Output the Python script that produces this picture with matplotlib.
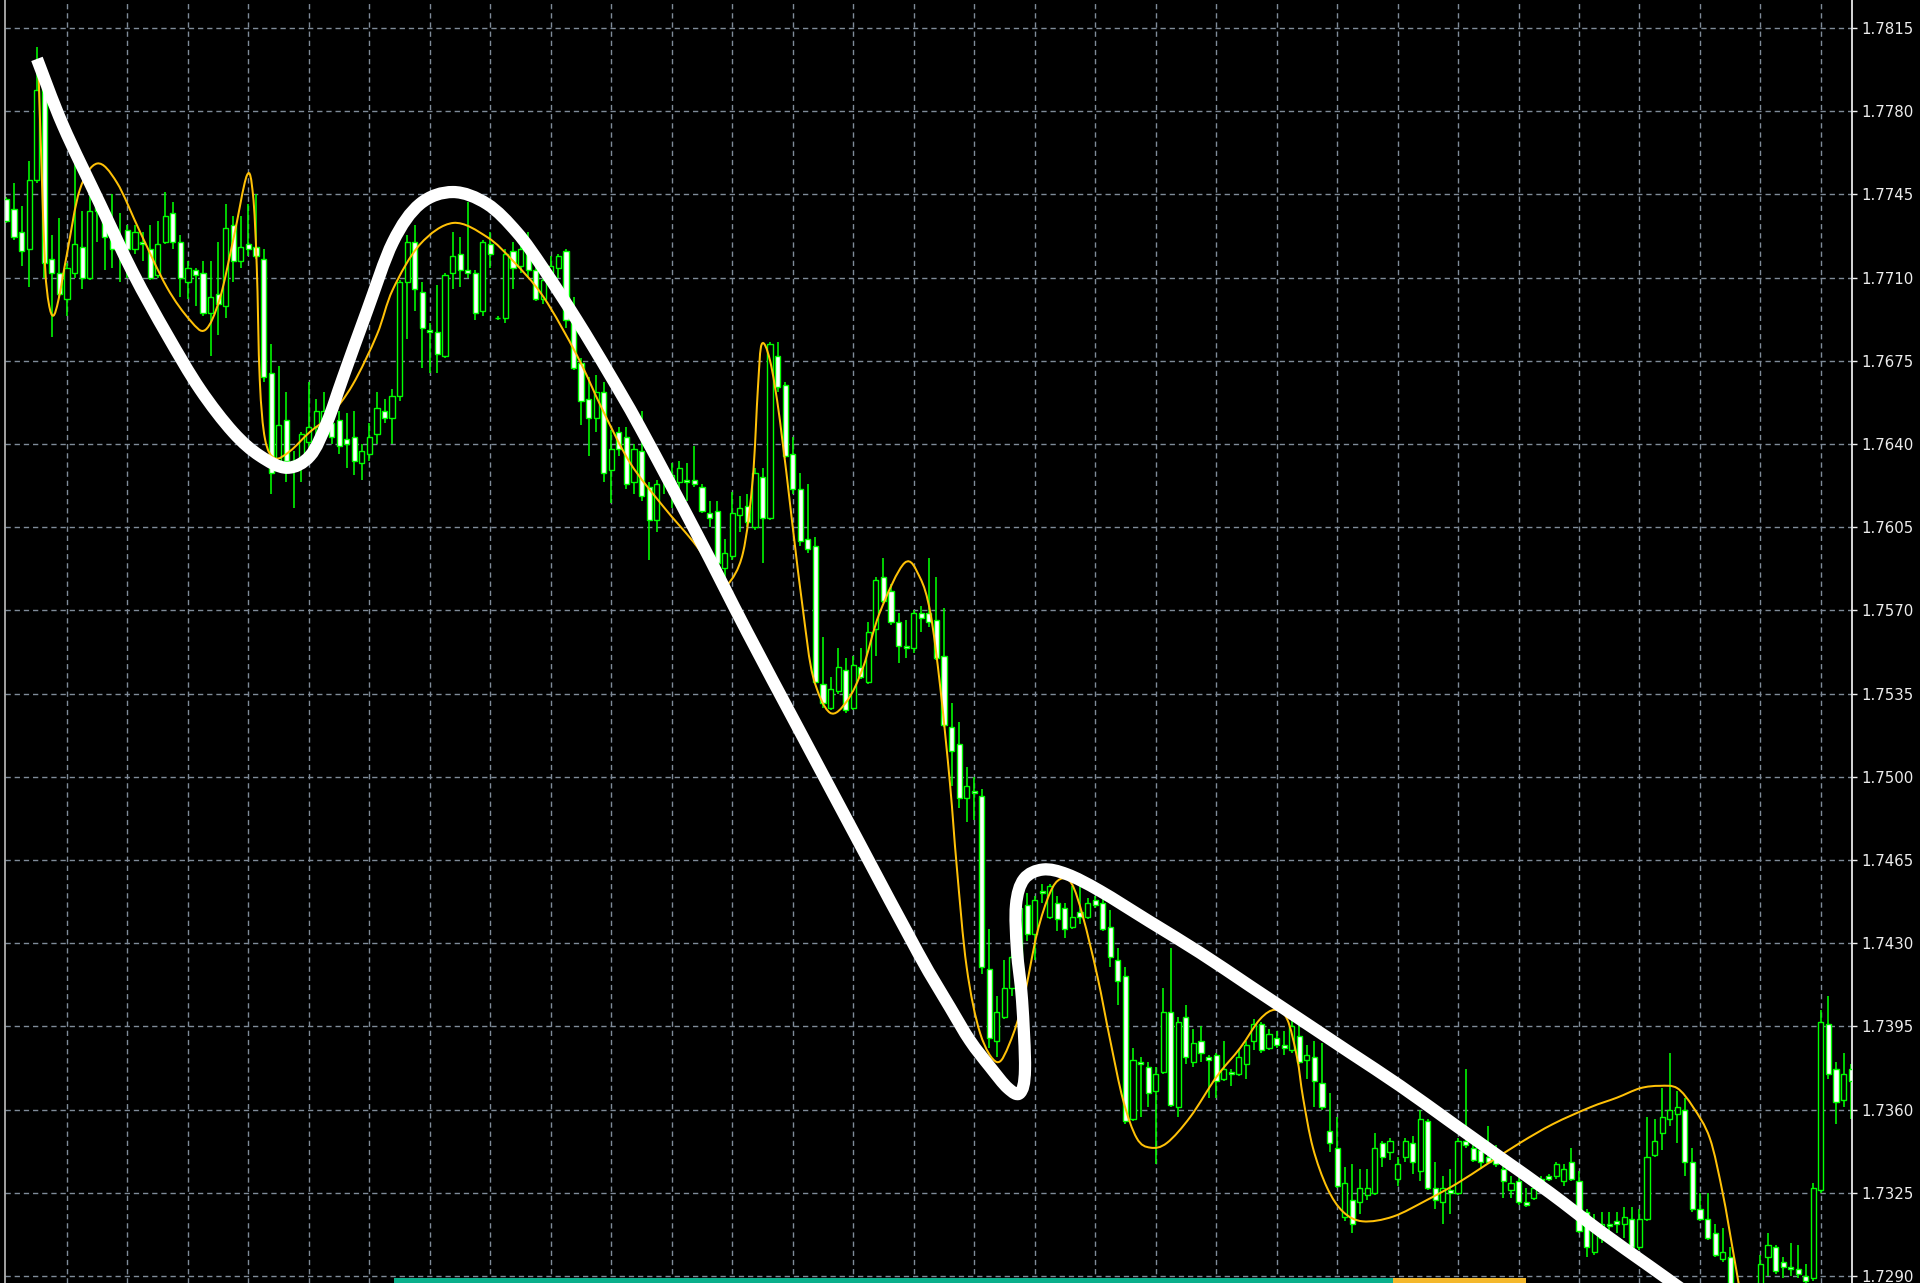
import matplotlib
matplotlib.use("Agg")
import matplotlib.pyplot as plt
import numpy as np
from matplotlib.path import Path
from matplotlib.patches import PathPatch, Rectangle
from matplotlib import font_manager

plt.rcParams['lines.scale_dashes'] = False

# ---------------- data ----------------
opens = [1.7743,1.7739,1.7729,1.7722,1.7751,1.7790,1.7718,1.7712,1.7701,1.7712,
1.7723,1.7710,1.7740,1.7734,1.7726,1.7724,1.7730,1.7722,1.7725,1.7722,
1.7711,1.7725,1.7737,1.7725,1.7708,1.7713,1.7712,1.7695,1.7703,1.7698,
1.7732,1.7717,1.7724,1.7723,1.7718,1.7670,1.7633,1.7650,1.7633,1.7633,
1.7641,1.7647,1.7649,1.7649,1.7650,1.7642,1.7643,1.7632,1.7636,1.7644,
1.7654,1.7651,1.7660,1.7708,1.7725,1.7704,1.7688,1.7687,1.7677,1.7712,
1.7720,1.7713,1.7712,1.7696,1.7724,1.7693,1.7693,1.7721,1.7715,1.7721,
1.7713,1.7701,1.7712,1.7714,1.7721,1.7693,1.7674,1.7659,1.7651,1.7662,
1.7629,1.7645,1.7643,1.7624,1.7637,1.7622,1.7608,1.7628,1.7619,1.7624,
1.7625,1.7625,1.7622,1.7611,1.7612,1.7588,1.7593,1.7610,1.7614,1.7605,
1.7626,1.7609,1.7677,1.7665,1.7636,1.7621,1.7600,1.7597,1.7539,1.7529,
1.7536,1.7545,1.7529,1.7546,1.7540,1.7562,1.7584,1.7578,1.7565,1.7555,
1.7554,1.7569,1.7569,1.7566,1.7551,1.7521,1.7514,1.7491,1.7494,1.7492,
1.7419,1.7389,1.7399,1.7411,1.7424,1.7446,1.7434,1.7452,1.7441,1.7447,
1.7445,1.7437,1.7443,1.7441,1.7448,1.7447,1.7437,1.7423,1.7416,1.7356,
1.7380,1.7378,1.7368,1.7376,1.7401,1.7361,1.7399,1.7380,1.7389,1.7382,
1.7383,1.7373,1.7376,1.7375,1.7379,1.7389,1.7396,1.7386,1.7390,1.7387,
1.7385,1.7391,1.7381,1.7382,1.7371,1.7351,1.7344,1.7315,1.7322,1.7321,
1.7324,1.7325,1.7346,1.7342,1.7331,1.7340,1.7346,1.7334,1.7355,1.7327,
1.7321,1.7326,1.7325,1.7347,1.7344,1.7343,1.7340,1.7341,1.7335,1.7326,
1.7330,1.7321,1.7323,1.7331,1.7332,1.7332,1.7330,1.7338,1.7330,1.7317,
1.7300,1.7306,1.7312,1.7313,1.7312,1.7314,1.7302,1.7314,1.7341,1.7350,
1.7356,1.7358,1.7360,1.7338,1.7318,1.7314,1.7308,1.7297,1.7298,1.7286,
1.7280,1.7277,1.7284,1.7298,1.7302,1.7296,1.7294,1.7293,1.7290,1.7289,
1.7326,1.7396,1.7377,1.7364,1.7377]
highs = [1.7744,1.7750,1.7740,1.7759,1.7807,1.7791,1.7728,1.7735,1.7716,1.7761,
1.7738,1.7747,1.7746,1.7740,1.7745,1.7737,1.7732,1.7732,1.7729,1.7732,
1.7734,1.7746,1.7742,1.7728,1.7717,1.7714,1.7717,1.7717,1.7725,1.7741,
1.7736,1.7736,1.7741,1.7745,1.7722,1.7682,1.7673,1.7662,1.7637,1.7645,
1.7666,1.7659,1.7662,1.7652,1.7654,1.7653,1.7654,1.7640,1.7649,1.7662,
1.7659,1.7663,1.7709,1.7728,1.7732,1.7708,1.7691,1.7707,1.7712,1.7729,
1.7727,1.7742,1.7713,1.7726,1.7729,1.7694,1.7722,1.7725,1.7727,1.7729,
1.7720,1.7710,1.7719,1.7720,1.7722,1.7702,1.7676,1.7668,1.7669,1.7666,
1.7646,1.7647,1.7647,1.7640,1.7654,1.7624,1.7625,1.7630,1.7632,1.7633,
1.7632,1.7639,1.7623,1.7616,1.7616,1.7600,1.7620,1.7618,1.7619,1.7630,
1.7630,1.7683,1.7683,1.7666,1.7643,1.7628,1.7623,1.7601,1.7559,1.7542,
1.7554,1.7550,1.7551,1.7554,1.7565,1.7584,1.7592,1.7581,1.7569,1.7566,
1.7570,1.7572,1.7592,1.7584,1.7571,1.7531,1.7523,1.7504,1.7500,1.7495,
1.7436,1.7408,1.7423,1.7429,1.7449,1.7451,1.7450,1.7455,1.7455,1.7450,
1.7447,1.7454,1.7454,1.7449,1.7450,1.7449,1.7444,1.7428,1.7420,1.7386,
1.7382,1.7380,1.7378,1.7411,1.7428,1.7399,1.7404,1.7394,1.7395,1.7383,
1.7384,1.7389,1.7377,1.7385,1.7389,1.7398,1.7397,1.7394,1.7393,1.7393,
1.7399,1.7396,1.7387,1.7389,1.7388,1.7367,1.7357,1.7336,1.7337,1.7335,
1.7335,1.7350,1.7347,1.7348,1.7340,1.7348,1.7349,1.7360,1.7356,1.7338,
1.7332,1.7335,1.7348,1.7377,1.7346,1.7347,1.7353,1.7345,1.7339,1.7332,
1.7332,1.7327,1.7329,1.7332,1.7333,1.7338,1.7337,1.7344,1.7334,1.7318,
1.7316,1.7317,1.7317,1.7317,1.7319,1.7319,1.7318,1.7357,1.7356,1.7369,
1.7384,1.7368,1.7365,1.7344,1.7325,1.7325,1.7312,1.7310,1.7302,1.7287,
1.7284,1.7283,1.7299,1.7308,1.7303,1.7298,1.7304,1.7303,1.7295,1.7329,
1.7402,1.7408,1.7380,1.7384,1.7379]
lows = [1.7733,1.7726,1.7715,1.7706,1.7750,1.7710,1.7685,1.7702,1.7694,1.7710,
1.7705,1.7709,1.7725,1.7713,1.7714,1.7708,1.7710,1.7720,1.7717,1.7709,
1.7710,1.7724,1.7722,1.7702,1.7701,1.7698,1.7694,1.7677,1.7686,1.7693,
1.7708,1.7714,1.7719,1.7718,1.7666,1.7619,1.7632,1.7624,1.7613,1.7624,
1.7632,1.7643,1.7643,1.7640,1.7636,1.7630,1.7627,1.7625,1.7633,1.7640,
1.7649,1.7640,1.7658,1.7684,1.7696,1.7672,1.7670,1.7670,1.7676,1.7705,
1.7706,1.7710,1.7692,1.7694,1.7714,1.7692,1.7691,1.7705,1.7712,1.7710,
1.7700,1.7699,1.7709,1.7710,1.7689,1.7671,1.7648,1.7635,1.7645,1.7624,
1.7615,1.7635,1.7621,1.7619,1.7616,1.7591,1.7603,1.7619,1.7613,1.7621,
1.7616,1.7622,1.7611,1.7605,1.7588,1.7583,1.7591,1.7603,1.7605,1.7604,
1.7590,1.7608,1.7662,1.7634,1.7619,1.7597,1.7594,1.7539,1.7529,1.7528,
1.7535,1.7527,1.7528,1.7541,1.7539,1.7551,1.7573,1.7564,1.7548,1.7550,
1.7552,1.7561,1.7563,1.7549,1.7521,1.7496,1.7487,1.7481,1.7482,1.7417,
1.7386,1.7382,1.7398,1.7408,1.7423,1.7431,1.7423,1.7447,1.7440,1.7435,
1.7432,1.7436,1.7438,1.7440,1.7445,1.7435,1.7420,1.7404,1.7354,1.7355,
1.7357,1.7361,1.7337,1.7375,1.7361,1.7357,1.7379,1.7378,1.7380,1.7365,
1.7365,1.7372,1.7370,1.7374,1.7373,1.7385,1.7384,1.7385,1.7386,1.7383,
1.7384,1.7379,1.7373,1.7361,1.7360,1.7342,1.7327,1.7313,1.7308,1.7316,
1.7322,1.7324,1.7336,1.7339,1.7328,1.7338,1.7333,1.7330,1.7326,1.7318,
1.7312,1.7316,1.7324,1.7344,1.7338,1.7335,1.7337,1.7336,1.7323,1.7323,
1.7320,1.7319,1.7322,1.7329,1.7330,1.7331,1.7328,1.7330,1.7308,1.7298,
1.7299,1.7304,1.7306,1.7308,1.7306,1.7301,1.7301,1.7313,1.7340,1.7343,
1.7353,1.7346,1.7332,1.7317,1.7313,1.7305,1.7298,1.7296,1.7284,1.7278,
1.7274,1.7272,1.7282,1.7290,1.7291,1.7289,1.7290,1.7289,1.7287,1.7288,
1.7325,1.7373,1.7354,1.7361,1.7356]
closes = [1.7734,1.7727,1.7721,1.7751,1.7789,1.7716,1.7712,1.7703,1.7714,1.7724,
1.7710,1.7738,1.7738,1.7727,1.7722,1.7722,1.7722,1.7729,1.7724,1.7710,
1.7724,1.7736,1.7725,1.7710,1.7714,1.7711,1.7695,1.7702,1.7699,1.7731,
1.7717,1.7723,1.7722,1.7719,1.7668,1.7628,1.7648,1.7633,1.7632,1.7644,
1.7647,1.7654,1.7654,1.7643,1.7639,1.7640,1.7633,1.7637,1.7643,1.7655,
1.7651,1.7660,1.7708,1.7725,1.7705,1.7689,1.7687,1.7678,1.7711,1.7719,
1.7713,1.7712,1.7695,1.7725,1.7720,1.7693,1.7720,1.7714,1.7722,1.7713,
1.7701,1.7709,1.7715,1.7719,1.7692,1.7672,1.7658,1.7651,1.7662,1.7628,
1.7638,1.7638,1.7623,1.7638,1.7618,1.7608,1.7623,1.7626,1.7627,1.7630,
1.7624,1.7623,1.7612,1.7609,1.7590,1.7594,1.7611,1.7613,1.7607,1.7628,
1.7609,1.7682,1.7664,1.7635,1.7621,1.7599,1.7596,1.7540,1.7531,1.7537,
1.7546,1.7528,1.7547,1.7542,1.7561,1.7583,1.7574,1.7565,1.7555,1.7554,
1.7569,1.7567,1.7565,1.7550,1.7522,1.7511,1.7491,1.7496,1.7493,1.7420,
1.7390,1.7401,1.7411,1.7424,1.7445,1.7434,1.7448,1.7451,1.7454,1.7440,
1.7436,1.7441,1.7441,1.7447,1.7446,1.7436,1.7424,1.7414,1.7355,1.7381,
1.7379,1.7367,1.7375,1.7401,1.7362,1.7397,1.7382,1.7388,1.7384,1.7381,
1.7372,1.7377,1.7375,1.7382,1.7387,1.7396,1.7385,1.7392,1.7387,1.7386,
1.7395,1.7380,1.7383,1.7372,1.7361,1.7346,1.7328,1.7329,1.7312,1.7327,
1.7327,1.7344,1.7340,1.7347,1.7337,1.7347,1.7338,1.7356,1.7327,1.7322,
1.7327,1.7325,1.7347,1.7345,1.7339,1.7338,1.7338,1.7337,1.7330,1.7329,
1.7321,1.7320,1.7327,1.7330,1.7331,1.7337,1.7335,1.7331,1.7309,1.7302,
1.7309,1.7312,1.7311,1.7312,1.7315,1.7302,1.7314,1.7340,1.7347,1.7357,
1.7360,1.7361,1.7338,1.7318,1.7314,1.7306,1.7299,1.7300,1.7286,1.7280,
1.7277,1.7281,1.7295,1.7303,1.7292,1.7294,1.7293,1.7291,1.7288,1.7327,
1.7397,1.7375,1.7363,1.7375,1.7372]

# thin gold smoothing curve (bar index, price)
gold_x = [4.2,4.6,5.1,5.6,6.2,6.9,8.0,9.7,12.0,14.6,17.7,21.2,24.3,26.3,28.2,30.0,31.8,32.6,33.1,33.5,
          34.2,35.5,37.5,40.1,42.8,45.8,49.0,51.1,54.7,59.1,63.6,67.0,71.0,75.5,78.9,82.5,86.8,91.3,94.1,95.4,
          97.4,98.7,99.4,99.9,101.0,102.3,104.0,105.4,106.7,108.9,111.2,113.3,115.5,118.8,120.8,122.2,123.5,124.8,125.7,127.0,
          128.8,131.0,132.7,134.5,136.3,138.0,139.4,140.9,142.4,144.3,146.0,147.7,149.5,151.3,153.5,156.6,160.1,163.2,165.8,167.8,
          169.4,170.7,171.5,172.8,174.7,176.8,179.4,183.4,187.9,191.9,195.8,200.2,204.6,209.5,213.0,216.1,218.7,221.0,223.1,225.3,
          227.0,228.4,229.6]
gold_y = [1.7800,1.7760,1.7715,1.7699,1.7694,1.7701,1.7720,1.7747,1.7758,1.7750,1.7729,1.7706,1.7692,1.7688,1.7701,1.7726,1.7753,1.7745,1.7715,1.7667,
          1.7642,1.7634,1.7637,1.7645,1.7652,1.7665,1.7686,1.7705,1.7724,1.7733,1.7727,1.7717,1.7702,1.7677,1.7654,1.7632,1.7614,1.7597,1.7583,1.7581,
          1.7594,1.7625,1.7664,1.7682,1.7675,1.7650,1.7605,1.7569,1.7542,1.7527,1.7532,1.7546,1.7569,1.7590,1.7584,1.7569,1.7538,1.7497,1.7462,1.7420,
          1.7392,1.7380,1.7388,1.7406,1.7434,1.7451,1.7457,1.7455,1.7441,1.7416,1.7389,1.7364,1.7348,1.7344,1.7346,1.7357,1.7374,1.7386,1.7398,1.7402,
          1.7398,1.7382,1.7365,1.7344,1.7327,1.7317,1.7313,1.7315,1.7322,1.7329,1.7337,1.7346,1.7354,1.7361,1.7365,1.7369,1.7370,1.7369,1.7361,1.7348,
          1.7325,1.7300,1.7278]

# thick white hand-drawn trend curve (bar index, price)
white_x = [4.03,7.47,12.37,16.73,21.23,25.60,29.96,33.53,37.10,40.15,42.39,44.51,47.69,51.12,54.70,59.06,63.56,67.53,70.97,75.46,
           79.83,83.80,91.34,97.95,104.96,112.50,120.57,124.80,127.45,130.09,132.47,134.06,134.72,134.33,133.66,133.53,134.59,137.10,140.28,144.64,
           151.26,157.87,164.48,171.10,177.71,184.33,190.94,197.55,204.17,210.78,217.39,224.01]
white_y = [1.7802,1.7774,1.7741,1.7712,1.7686,1.7663,1.7645,1.7635,1.7630,1.7635,1.7649,1.7668,1.7696,1.7725,1.7741,1.7746,1.7741,1.7729,1.7714,1.7692,
           1.7669,1.7647,1.7602,1.7561,1.7519,1.7474,1.7426,1.7403,1.7389,1.7378,1.7369,1.7367,1.7377,1.7406,1.7427,1.7446,1.7457,1.7461,1.7459,1.7452,
           1.7439,1.7426,1.7412,1.7398,1.7384,1.7370,1.7355,1.7340,1.7325,1.7309,1.7294,1.7279]

price_ticks = [1.7290,1.7325,1.7360,1.7395,1.7430,1.7465,1.7500,1.7535,1.7570,1.7605,
               1.7640,1.7675,1.7710,1.7745,1.7780,1.7815]
grid_bars = list(range(8, 241, 8))

# ---------------- figure ----------------
W, H = 1920, 1283
fig = plt.figure(figsize=(W/100, H/100), dpi=100, facecolor='black')
ax = fig.add_axes([5/W, 0, 1847/W, 1])
ax.set_facecolor('black')
ax.set_xlim(-0.198, 244.11)
ax.set_ylim(1.728706, 1.782678)

# grid
ax.set_xticks(grid_bars)
ax.set_yticks(price_ticks)
ax.set_yticklabels([f"{v:.4f}" for v in price_ticks])
ax.grid(True, color='#7F8B99', linestyle=(0, (3.8, 2.8)), linewidth=1.0, zorder=0)
ax.set_axisbelow(True)
ax.tick_params(axis='x', length=0, labelbottom=False)

names = {f.name for f in font_manager.fontManager.ttflist}
if 'Liberation Sans Narrow' in names:
    fam, fs = 'Liberation Sans Narrow', 14.0
else:
    fam, fs = 'DejaVu Sans', 10.8
ax.yaxis.tick_right()
ax.tick_params(axis='y', colors='#EDEDED', length=3.5, width=1.0, pad=3,
               labelsize=fs, direction='out')
for lab in ax.get_yticklabels():
    lab.set_family(fam)

for s in ['top', 'bottom']:
    ax.spines[s].set_visible(False)
ax.spines['right'].set_color('#E8E8E8')
ax.spines['right'].set_linewidth(1.3)
ax.spines['left'].set_color('#BDBDBD')
ax.spines['left'].set_linewidth(1.2)

# candles
o = np.array(opens); h = np.array(highs); l = np.array(lows); c = np.array(closes)
xi = np.arange(len(o))
lime = '#00FF00'
ax.vlines(xi, l, h, color=lime, linewidth=1.15, zorder=2)
bull = c > o
body_bottom = np.minimum(o, c)
body_h = np.maximum(np.abs(c - o), 0.00001)
fills = np.where(bull, 'black', 'white')
ax.bar(xi, body_h, bottom=body_bottom, width=0.68, color=list(fills),
       edgecolor=lime, linewidth=1.0, zorder=3)

def smooth_path(xs, ys):
    pts = np.column_stack([xs, ys]).astype(float)
    P = np.vstack([pts[0], pts, pts[-1]])
    verts = [pts[0]]
    codes = [Path.MOVETO]
    for i in range(1, len(P) - 2):
        p0, p1, p2, p3 = P[i-1], P[i], P[i+1], P[i+2]
        verts += [p1 + (p2 - p0) / 6.0, p2 - (p3 - p1) / 6.0, p2]
        codes += [Path.CURVE4] * 3
    return Path(verts, codes)

ax.add_patch(PathPatch(smooth_path(gold_x, gold_y), fill=False, edgecolor='#FFC107',
                       linewidth=1.45, zorder=4))
ax.add_patch(PathPatch(smooth_path(white_x, white_y), fill=False, edgecolor='white',
                       linewidth=8.8, capstyle='butt', joinstyle='round', zorder=5))

# bottom status strip
fig.add_artist(Rectangle((394/W, 0), (1393-394)/W, 5/H, transform=fig.transFigure,
                         facecolor='#0BB08C', edgecolor='none', zorder=10))
fig.add_artist(Rectangle((1393/W, 0), (1526-1393)/W, 5/H, transform=fig.transFigure,
                         facecolor='#F4B82C', edgecolor='none', zorder=10))

fig.savefig('out.png', dpi=100, facecolor='black')
